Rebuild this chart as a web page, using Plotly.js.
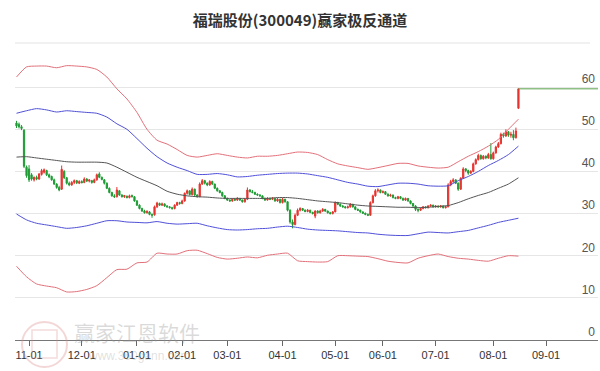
<!DOCTYPE html>
<html><head><meta charset="utf-8">
<script src="https://cdn.plot.ly/plotly-3.0.1.min.js"></script>
<style>html,body{margin:0;padding:0;background:#fff}#chart{width:600px;height:371px}</style>
</head><body><div id="chart"></div>
<script>
const openP = [51.5,51.2,50.6,49.8,41.0,40.6,39.2,38.0,38.6,38.2,
39.3,39.8,40.2,39.2,38.8,38.0,37.0,36.2,35.8,40.0,
38.5,37.2,36.8,37.4,37.8,37.2,37.6,37.4,38.2,37.7,
37.8,37.4,38.0,39.4,38.6,38.0,37.2,36.0,35.0,34.2,
34.0,35.4,34.4,34.0,34.1,33.8,34.3,34.0,33.0,32.0,
31.2,30.6,30.2,30.4,29.8,29.7,31.6,32.4,32.0,32.3,
31.8,31.6,31.4,31.2,32.0,32.6,32.4,33.0,34.8,35.4,
34.5,35.8,34.4,34.0,37.0,37.8,37.2,36.8,37.6,37.0,
36.0,35.4,35.0,34.2,33.6,33.2,33.0,33.4,33.2,33.6,
33.2,32.8,33.4,35.6,35.2,35.0,34.6,34.4,34.2,33.6,
33.2,33.6,33.4,33.6,33.0,33.4,32.6,33.4,32.8,30.8,
28.0,27.4,29.6,30.8,31.2,30.8,30.5,30.8,30.3,29.4,
30.6,30.2,30.6,31.0,30.6,30.2,30.0,30.4,32.6,32.2,
31.8,31.6,31.4,31.6,32.2,31.6,31.0,30.8,30.4,30.1,
29.8,29.6,32.6,34.2,35.4,35.6,35.0,35.2,34.6,34.2,
34.4,33.8,33.6,34.0,33.6,33.2,33.6,33.0,32.4,31.8,
31.0,30.8,31.2,31.6,31.4,31.8,32.0,31.6,31.8,31.6,
31.8,31.4,31.6,36.8,37.6,38.0,37.2,35.8,38.4,40.6,
40.2,39.6,40.0,41.8,42.8,43.8,43.0,43.6,43.2,44.0,
43.0,44.4,45.8,46.6,48.8,48.4,49.4,48.6,48.8,48.0,
55.0];
const highP = [52.0,51.6,51.0,50.0,41.4,41.5,39.6,38.8,39.0,39.6,
40.6,40.7,40.4,39.5,39.0,38.3,37.2,36.6,41.4,40.3,
38.7,37.6,37.7,38.1,38.0,37.9,37.9,38.6,38.4,38.1,
38.0,38.3,39.5,39.8,38.8,38.2,37.4,36.2,35.2,34.6,
36.3,35.6,34.6,34.4,34.3,34.5,34.5,34.1,33.2,32.2,
31.4,30.9,30.8,30.6,30.0,31.9,32.8,32.6,32.6,32.4,
32.0,31.8,31.6,32.2,32.8,32.8,33.3,35.0,35.7,35.5,
36.2,35.9,34.6,37.4,38.2,38.0,37.4,37.9,37.8,37.1,
36.2,35.6,35.2,34.4,33.8,33.4,33.6,33.6,33.9,33.7,
33.3,33.6,36.2,35.8,35.6,35.2,34.8,34.6,34.3,33.8,
33.9,33.8,33.9,33.7,33.7,33.5,33.7,33.5,32.9,31.0,
28.6,30.0,31.2,31.5,31.3,31.0,31.1,30.9,30.4,30.8,
30.8,30.9,31.3,31.1,30.7,30.4,30.6,32.9,32.8,32.4,
32.0,31.8,31.9,32.5,32.3,31.7,31.2,30.9,30.5,30.2,
30.0,32.9,34.5,35.8,36.0,35.7,35.5,35.3,34.8,34.7,
34.5,34.0,34.2,34.1,33.8,33.8,33.7,33.1,32.5,32.0,
31.2,31.4,31.8,31.7,32.0,32.2,32.1,32.0,31.9,32.0,
31.9,31.8,37.2,38.0,38.4,38.1,37.4,38.6,41.0,40.8,
40.4,40.3,42.1,43.1,44.2,44.0,43.9,43.8,44.4,46.7,
44.7,46.1,47.0,49.2,49.2,50.0,49.6,49.4,49.8,50.4,
59.6];
const lowP = [50.3,50.2,49.8,40.8,38.5,37.5,37.8,37.6,37.9,38.0,
39.0,39.5,38.9,38.4,37.8,36.8,35.9,35.3,35.6,38.2,
36.9,36.5,36.6,37.0,37.0,37.0,37.2,37.2,37.5,37.4,
37.1,37.2,37.8,38.4,37.9,36.9,35.8,34.8,34.0,33.7,
33.8,34.2,33.8,33.7,33.6,33.6,33.8,32.8,31.8,31.0,
30.4,30.0,30.0,29.6,29.0,29.5,31.3,31.8,31.8,31.6,
31.4,31.2,30.9,31.0,31.8,32.1,32.2,32.8,34.5,34.3,
34.3,34.2,33.8,33.9,36.8,36.9,36.5,36.6,36.8,35.8,
35.2,34.8,34.0,33.4,33.0,32.8,32.8,33.0,33.0,33.0,
32.6,32.6,33.2,35.0,34.8,34.4,34.2,34.0,33.4,33.0,
33.1,33.2,33.2,32.8,32.8,32.4,32.4,32.6,30.5,27.6,
26.5,27.2,29.4,30.5,30.6,30.3,30.3,30.1,29.8,28.9,
30.0,30.0,30.4,30.4,30.0,29.8,29.8,30.3,32.0,31.6,
31.4,31.2,31.2,31.4,31.4,30.8,30.6,30.2,29.9,29.6,
29.4,29.5,32.4,34.0,35.0,34.8,34.8,34.4,34.0,34.0,
33.6,33.4,33.4,33.4,33.0,33.0,32.8,32.2,31.6,30.6,
30.3,30.6,31.0,31.2,31.2,31.6,31.4,31.4,31.4,31.4,
31.2,31.2,31.5,36.5,37.2,37.0,35.4,35.6,38.2,39.8,
39.2,39.4,39.8,41.6,42.6,42.8,42.8,42.9,43.0,42.8,
42.8,44.2,45.6,46.4,48.0,48.2,48.2,48.0,47.4,47.8,
54.8];
const closeP = [50.8,50.6,50.2,41.2,39.0,38.0,38.2,38.6,38.2,39.4,
40.2,40.4,39.2,38.7,38.0,37.0,36.2,35.6,40.5,38.5,
37.2,36.8,37.4,37.8,37.3,37.6,37.3,38.2,37.7,38.0,
37.4,38.0,39.2,38.6,38.1,37.2,36.0,35.0,34.2,34.0,
35.6,34.4,34.0,34.3,33.8,34.2,34.0,33.0,32.0,31.2,
30.6,30.2,30.5,29.8,29.6,31.6,32.5,32.0,32.3,31.8,
31.6,31.4,31.2,32.0,32.6,32.4,33.0,34.8,35.4,34.5,
35.8,34.4,34.0,37.0,37.8,37.2,36.8,37.6,37.0,36.0,
35.4,35.0,34.2,33.6,33.2,33.0,33.4,33.2,33.6,33.2,
32.8,33.4,35.6,35.2,35.0,34.6,34.4,34.2,33.6,33.2,
33.6,33.4,33.6,33.0,33.4,32.6,33.4,32.8,30.8,28.0,
27.4,29.6,30.8,31.2,30.8,30.5,30.8,30.3,30.0,30.6,
30.2,30.6,31.0,30.6,30.2,30.0,30.4,32.6,32.2,31.8,
31.6,31.4,31.6,32.2,31.6,31.0,30.8,30.4,30.1,29.8,
29.6,32.6,34.2,35.4,35.6,35.0,35.2,34.6,34.2,34.4,
33.8,33.6,34.0,33.6,33.2,33.6,33.0,32.4,31.8,31.0,
30.8,31.2,31.6,31.4,31.8,32.0,31.6,31.8,31.6,31.8,
31.4,31.6,36.8,37.6,38.0,37.2,35.8,38.4,40.6,40.2,
39.6,40.0,41.8,42.8,43.8,43.0,43.6,43.2,44.0,43.0,
44.4,45.8,46.6,48.8,48.4,49.4,48.6,48.8,48.0,49.6,
59.6];

// channel lines, sampled every 4th trading day
const bandX = [0,4,8,12,16,20,24,28,32,36,40,44,48,52,56,60,64,68,72,76,80,84,88,92,96,100,
104,108,112,116,120,124,128,132,136,140,144,148,152,156,160,164,168,172,176,180,184,188,192,196,200];
const redUpper = [62.4,64.8,65.0,65.0,64.6,65.1,65.0,64.8,64.2,62.4,59.6,57.2,54.0,50.0,47.4,46.5,45.2,43.8,43.4,43.8,
44.2,43.8,43.4,43.2,43.6,43.6,43.8,44.2,44.6,44.5,44.0,42.8,41.8,41.3,40.9,40.5,40.9,41.4,41.9,41.9,
41.3,41.0,40.8,41.0,42.3,43.6,44.7,46.0,47.6,50.0,52.4];
const blueUpper = [53.8,54.4,54.9,54.6,54.1,54.4,54.2,54.0,53.8,52.9,51.3,50.0,47.8,45.5,43.5,42.0,41.0,40.2,39.3,39.3,
39.5,39.2,38.7,38.8,39.1,39.3,39.5,39.6,39.6,39.4,39.0,38.6,38.0,37.4,37.0,36.5,36.4,36.8,37.2,37.2,
37.0,36.6,36.5,36.6,37.8,38.8,40.0,41.4,42.6,44.0,46.0];
const midLine = [43.4,43.5,43.2,42.9,42.6,42.3,42.2,42.2,42.2,42.0,41.0,39.8,38.6,37.6,36.6,35.3,34.6,34.2,34.0,33.9,
33.7,33.6,33.6,33.6,33.6,33.6,33.8,33.8,33.6,33.3,33.0,32.8,32.6,32.3,32.0,31.8,31.7,31.6,31.5,31.5,
31.4,31.5,31.7,31.9,32.6,33.5,34.3,35.0,36.0,37.0,38.5];
const blueLower = [29.9,28.5,27.7,27.3,26.9,26.5,26.7,27.1,27.7,28.3,28.3,28.0,27.9,27.8,28.1,27.7,27.5,27.6,27.7,27.1,
26.6,26.2,26.1,26.2,26.4,26.5,26.8,27.0,26.7,26.3,26.1,26.0,25.9,25.7,25.5,25.4,25.1,24.9,24.8,24.8,
25.2,25.6,25.5,25.4,25.7,26.0,26.6,27.2,27.9,28.4,28.9];
const redLower = [17.5,15.0,13.3,12.8,12.4,11.4,11.5,12.0,12.9,14.8,16.7,16.8,18.3,18.5,20.6,20.4,20.4,21.2,21.3,20.5,
19.6,19.2,19.4,19.7,19.5,20.1,20.4,20.6,18.8,18.6,18.5,18.6,20.0,20.0,19.9,19.8,19.3,18.7,18.4,18.3,
19.4,20.0,20.4,19.8,19.4,19.2,18.9,18.7,19.4,20.0,19.9];

const tickIdx = [5,26,48,66,84,106,127,146,167,190,211];
const tickLabels = ['11-01','12-01','01-01','02-01','03-01','04-01','05-01','06-01','07-01','08-01','09-01'];
const yTicks = [0,10,20,30,40,50,60];

const X_END = 231.7;
const idx = closeP.map((_, i) => i);
const last = closeP.length - 1;

const RED = '#e8332f', GREEN = '#1f9b35';
const bandLine = (y, color) => ({type:'scatter', mode:'lines', x:bandX, y:y,
  line:{color:color, width:1, shape:'spline', smoothing:0.6}, hoverinfo:'skip'});

const traces = [
  bandLine(redUpper, '#e2707a'),
  bandLine(blueUpper, '#5050d8'),
  bandLine(midLine, '#555555'),
  bandLine(blueLower, '#5050d8'),
  bandLine(redLower, '#e2707a'),
  {type:'candlestick', x:idx, open:openP, high:highP, low:lowP, close:closeP,
   increasing:{line:{color:RED, width:1}, fillcolor:RED},
   decreasing:{line:{color:GREEN, width:1}, fillcolor:GREEN},
   whiskerwidth:0, hoverinfo:'skip'},
  {type:'scatter', mode:'lines', x:[last, X_END], y:[closeP[last], closeP[last]],
   line:{color:'#5aa04a', width:1}, hoverinfo:'skip'}
];

// pixel helpers for decorations (plot area: x 15..598, y 45..340)
const px = v => (v - 15) / 583;
const py = v => (340 - v) / 295;

const layout = {
  width:600, height:371,
  margin:{l:15, r:2, t:45, b:31},
  paper_bgcolor:'#ffffff', plot_bgcolor:'#ffffff',
  showlegend:false,
  title:{text:'福瑞股份(300049)赢家极反通道', x:0.5, xref:'container', y:1-21/371, yref:'container', yanchor:'middle',
         font:{family:'Noto Sans CJK SC', size:15, color:'#333333', weight:'bold'}},
  xaxis:{type:'linear', range:[-0.6, X_END], tickmode:'array', tickvals:tickIdx, ticktext:tickLabels,
         ticks:'outside', ticklen:5, tickcolor:'#666', tickwidth:1,
         showline:true, linecolor:'#777', linewidth:1, showgrid:false, zeroline:false,
         tickfont:{family:'Liberation Sans', size:11, color:'#333'}, rangeslider:{visible:false}, fixedrange:true},
  yaxis:{range:[0,70], tickmode:'array', tickvals:yTicks, side:'right', ticklabelposition:'inside top',
         ticks:'', showgrid:true, gridcolor:'#e6e6e6', gridwidth:1, zeroline:false, showline:false,
         tickfont:{family:'Liberation Sans', size:12, color:'#555'}, fixedrange:true},
  shapes:[
    {type:'line', xref:'paper', yref:'paper', x0:px(15), x1:px(590), y0:py(43), y1:py(43), line:{color:'#e3e3e3', width:1}},
    {type:'circle', xref:'paper', yref:'paper', x0:px(22), x1:px(67), y0:py(322), y1:py(367), line:{color:'rgba(220,140,140,0.35)', width:2}},
    {type:'rect', xref:'paper', yref:'paper', x0:px(32), x1:px(57), y0:py(330), y1:py(358), line:{color:'rgba(220,140,140,0.3)', width:1.5}}
  ],
  annotations:[
    {xref:'paper', yref:'paper', x:px(72), y:py(332), xanchor:'left', yanchor:'middle', showarrow:false,
     text:'赢家江恩软件', font:{family:'Noto Sans CJK SC', size:21, color:'rgba(150,150,150,0.35)'}},
    {xref:'paper', yref:'paper', x:px(86), y:py(356), xanchor:'left', yanchor:'middle', showarrow:false,
     text:'www.360gann.com', font:{family:'Liberation Sans', size:12, color:'rgba(150,150,150,0.3)'}}
  ]
};

Plotly.newPlot('chart', traces, layout, {displayModeBar:false, staticPlot:true});
</script>
</body></html>
